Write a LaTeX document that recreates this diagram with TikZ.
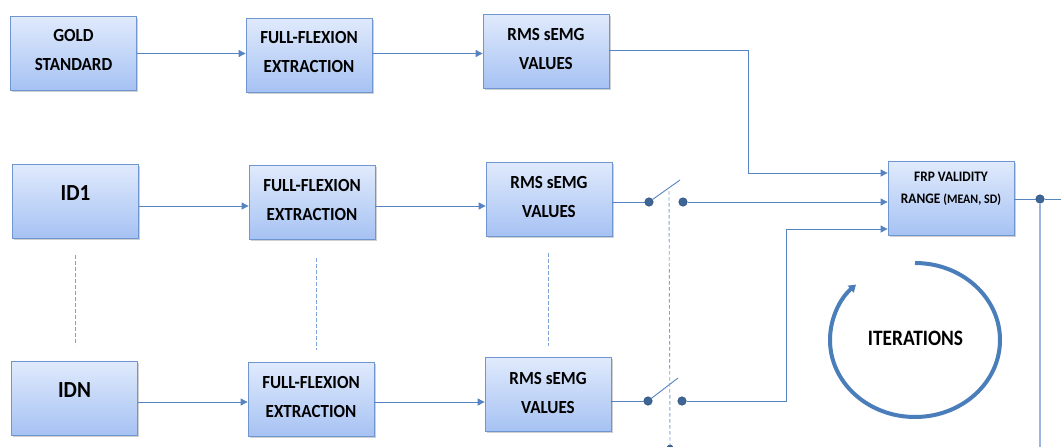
\documentclass[tikz,border=0pt]{standalone}
\usepackage{fontspec}
\setmainfont{Carlito}
\newfontfamily\cb{Carlito}[FakeStretch=0.92]
\newfontfamily\cbi{Carlito}[FakeStretch=0.88]
\usetikzlibrary{arrows.meta,shadows}
\definecolor{boxtop}{HTML}{E0EAFC}
\definecolor{boxbot}{HTML}{A6C2F3}
\definecolor{boxline}{HTML}{6F96D0}
\definecolor{linec}{HTML}{5684C2}
\definecolor{dotc}{HTML}{3D6596}
\definecolor{dotd}{HTML}{2D4F7C}
\definecolor{dashc}{HTML}{7FA3D6}
\definecolor{outc}{HTML}{9AB6E0}
\definecolor{arcc}{HTML}{4A7EBB}
\tikzset{
  box/.style={draw=boxline, line width=0.8pt, top color=boxtop, bottom color=boxbot,
    minimum width=126pt, minimum height=74pt, inner sep=0pt,
    drop shadow={shadow xshift=1.5pt, shadow yshift=-1.8pt, opacity=0.3, fill=black!60}},
  btxt/.style={align=center, inner sep=0pt, font=\cb\bfseries\fontsize{18.5}{29}\selectfont},
  idtxt/.style={align=center, inner sep=0pt, font=\cb\bfseries\fontsize{23}{28}\selectfont},
  ftxt/.style={align=center, inner sep=0pt, font=\cb\bfseries\fontsize{14.5}{22}\selectfont},
  conn/.style={draw=linec, line width=0.9pt},
  arr/.style={conn, -{Triangle[length=7pt,width=7pt]}},
  dot/.style={circle, fill=dotc, draw=dotd, line width=0.5pt, inner sep=0pt, minimum size=8.5pt},
  dashv/.style={draw=dashc, line width=0.9pt, dash pattern=on 3.5pt off 2.5pt},
  outv/.style={draw=outc, line width=1.6pt},
}
\begin{document}
\begin{tikzpicture}[x=1pt,y=-1pt]
\useasboundingbox[fill=white] (0,0) rectangle (1061,447);
% boxes
\node[box] (gold) at (73.5,53.5) {};
\node[box] (ff1) at (309,55) {};
\node[box] (rms1) at (546,51) {};
\node[box] (id1) at (75.5,201) {};
\node[box] (ff2) at (312,202.5) {};
\node[box] (rms2) at (549,199) {};
\node[box] (idN) at (74.5,398) {};
\node[box] (ffN) at (311,399.5) {};
\node[box] (rmsN) at (548,394.5) {};
\node[box] (frp) at (951,198.5) {};
% texts
\node[btxt] (goldt) at ([yshift=4pt]gold.center) {GOLD\\STANDARD};
\node[btxt] (ff1t) at ([yshift=3pt]ff1.center) {FULL-FLEXION\\EXTRACTION};
\node[btxt] (rms1t) at ([yshift=1.5pt]rms1.center) {RMS sEMG\\VALUES};
\node[idtxt] (id1t) at ([yshift=8pt]id1.center) {ID1};
\node[btxt] (ff2t) at ([yshift=3pt]ff2.center) {FULL-FLEXION\\EXTRACTION};
\node[btxt] (rms2t) at ([yshift=1.5pt]rms2.center) {RMS sEMG\\VALUES};
\node[idtxt] (idNt) at ([yshift=8pt]idN.center) {IDN};
\node[btxt] (ffNt) at ([yshift=3pt]ffN.center) {FULL-FLEXION\\EXTRACTION};
\node[btxt] (rmsNt) at ([yshift=1.5pt]rmsN.center) {RMS sEMG\\VALUES};
\node[ftxt] (frpt) at ([yshift=10pt]frp.center) {FRP VALIDITY\\RANGE {\fontsize{13}{22}\selectfont(MEAN, SD)}};
% row connectors
\draw[arr] (gold.east) -- (gold.east -| ff1.west);
\draw[arr] ([yshift=1.5pt]ff1.east) -- ([yshift=1.5pt]ff1.east -| rms1.west);
\draw[arr] ([yshift=-5pt]id1.east) -- ([yshift=-5pt]id1.east -| ff2.west);
\draw[arr] ([yshift=-3.5pt]ff2.east) -- ([yshift=-3.5pt]ff2.east -| rms2.west);
\draw[arr] ([yshift=-4pt]idN.east) -- ([yshift=-4pt]idN.east -| ffN.west);
\draw[arr] ([yshift=-2.5pt]ffN.east) -- ([yshift=-2.5pt]ffN.east -| rmsN.west);
% vertical ellipsis dashes
\coordinate (d1a) at (75,255); \coordinate (d1b) at (75,345);
\coordinate (d2a) at (316,258); \coordinate (d2b) at (316,350);
\coordinate (d3a) at (548,253); \coordinate (d3b) at (548,346);
\draw[dashv] (d1a) -- (d1b);
\draw[dashv] (d2a) -- (d2b);
\draw[dashv] (d3a) -- (d3b);
% gold path to FRP
\coordinate (t1) at (748,173);
\draw[arr] ([yshift=1pt]rms1.east) -| (t1) -- (t1 -| frp.west);
% switches
\node[dot] (s2a) at (649,202) {};
\node[dot] (s2b) at (683,202) {};
\coordinate (l2) at (680,180);
\draw[conn] (rms2.east |- s2a) -- (s2a);
\draw[conn] (s2a) -- (l2);
\draw[arr] (s2b) -- (s2b -| frp.west);
\node[dot] (sNa) at (648,401) {};
\node[dot] (sNb) at (682,401) {};
\coordinate (lN) at (678,378);
\draw[conn] (rmsN.east |- sNa) -- (sNa);
\draw[conn] (sNa) -- (lN);
\coordinate (b1) at (786,229);
\draw[arr] (sNb) -| (b1) -- (b1 -| frp.west);
% ganged switch link
\coordinate (sw0) at (669,191);
\node[dot, minimum size=6pt] (swd) at (670,448) {};
\draw[dashv] (sw0) -- (swd);
% output
\node[dot] (od) at (1040,199) {};
\coordinate (oe) at (1061,199);
\coordinate (ob) at (1040,447);
\draw[conn] (frp.east |- od) -- (od);
\draw[conn] (od) -- (oe);
\draw[outv] (od) -- (ob);
% iterations
\draw[arcc, line width=4pt, -{Triangle[length=7pt,width=9pt]}]
  (915,340) ++(-90:85 and 77) arc[start angle=-90, end angle=226, x radius=85, y radius=77];
\node[font=\cbi\bfseries\fontsize{22}{26}\selectfont] (it) at (915.5,338) {ITERATIONS};
\end{tikzpicture}
\end{document}
